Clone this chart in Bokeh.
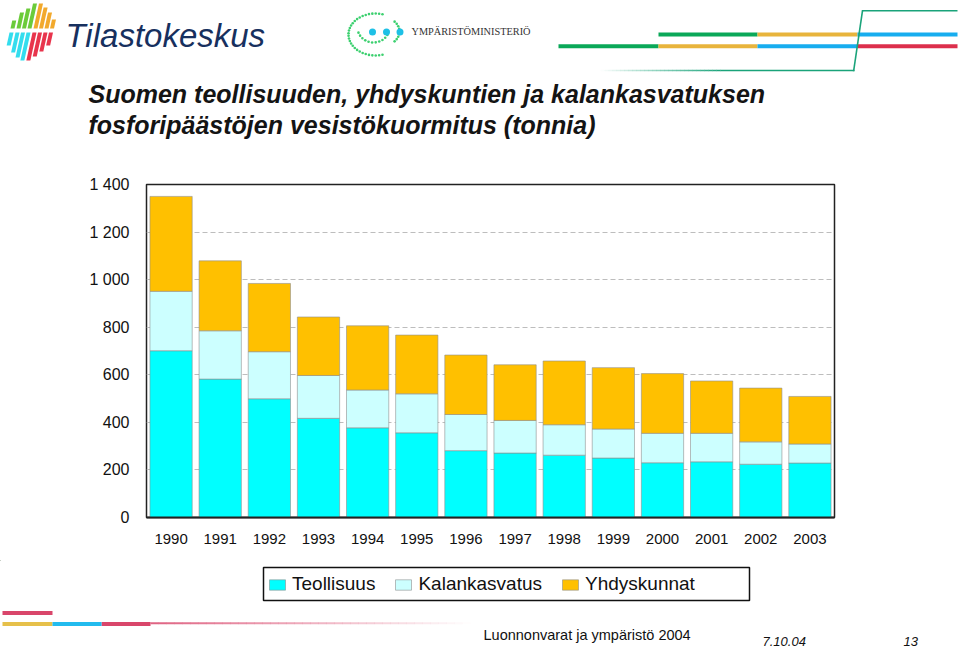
import math
from bokeh.plotting import figure
from bokeh.layouts import column
from bokeh.models import (ColumnDataSource, FactorRange, Range1d, FixedTicker, Legend,
                          LegendItem)
from bokeh.core.properties import value
from bokeh.embed import file_html
from bokeh.resources import INLINE

# ---------------- data ----------------
years = ["1990", "1991", "1992", "1993", "1994", "1995", "1996",
         "1997", "1998", "1999", "2000", "2001", "2002", "2003"]
teollisuus = [701, 582, 499, 417, 377, 356, 281, 271, 262, 250, 230, 234, 224, 229]
kalankasvatus = [250, 203, 198, 180, 159, 164, 152, 137, 128, 122, 124, 120, 94, 80]
yhdyskunnat = [399, 294, 287, 246, 270, 247, 250, 234, 268, 258, 251, 220, 226, 200]
series_names = ["Teollisuus", "Kalankasvatus", "Yhdyskunnat"]
series_colors = ["#00FFFF", "#CCFFFF", "#FFC000"]
y_ticks = [0, 200, 400, 600, 800, 1000, 1200, 1400]
y_tick_labels = ["0", "200", "400", "600", "800", "1 000", "1 200", "1 400"]

title_lines = ["Suomen teollisuuden, yhdyskuntien ja kalankasvatuksen",
               "fosforipäästöjen vesistökuormitus (tonnia)"]
source_text = "Luonnonvarat ja ympäristö 2004"
date_text = "7.10.04"
page_text = "13"

SANS = "Liberation Sans"
W = 960
HEAD_H, MAIN_H, FOOT_H = 170, 390, 88
BASE_SHIFT = 0.37  # empirical: rendered baseline sits this fraction of font size lower


def deco_figure(y0, h):
    f = figure(width=W, height=h, x_range=Range1d(0, W), y_range=Range1d(y0 + h, y0),
               x_axis_type=None, y_axis_type=None, output_backend="svg",
               toolbar_location=None, min_border=0, min_border_left=0, min_border_right=0,
               min_border_top=0, min_border_bottom=0, frame_align=False)
    f.title.visible = False
    f.outline_line_color = None
    f.background_fill_color = "white"
    f.border_fill_color = "white"
    return f


def quads(f, boxes, color, alpha=1.0):
    f.quad(left=[b[0] for b in boxes], right=[b[2] for b in boxes],
           top=[b[1] for b in boxes], bottom=[b[3] for b in boxes],
           fill_color=color, fill_alpha=alpha, line_color=None)


def fade(f, x0, x1, y0, y1, color, a0, a1, steps=30):
    w = (x1 - x0) / steps
    f.quad(left=[x0 + k * w for k in range(steps)],
           right=[x0 + (k + 1) * w + 0.3 for k in range(steps)],
           top=[y0] * steps, bottom=[y1] * steps, fill_color=color,
           fill_alpha=[a0 + (a1 - a0) * (k + 0.5) / steps for k in range(steps)],
           line_color=None)


def txt(f, x, y, s, size, style="normal", color="#111111", font=SANS, align="left"):
    f.text(x=[x], y=[y - BASE_SHIFT * size], text=[s], text_font=value(font),
           text_font_size=value(f"{size}px"), text_font_style=style, text_color=color,
           text_align=align, text_baseline="alphabetic")


# ================= header =================
hd = deco_figure(0, HEAD_H)

# Tilastokeskus logo bars
slant = 0.22
top_bars = [(10, 20, "#6BCB3A"), (16, 12, "#6BCB3A"), (21.5, 8, "#6BCB3A"), (27, 3, "#6BCB3A"),
            (33, 3, "#F2A92C"), (38.5, 7, "#F2A92C"), (44, 12, "#F2A92C"), (49.5, 19, "#F2A92C")]
xs, ys, cs = [], [], []
for bx, ty, c in top_bars:
    by = 28
    xs.append([bx, bx + 4, bx + 4 + slant * (by - ty), bx + slant * (by - ty)])
    ys.append([by, by, ty, ty]); cs.append(c)
bot_bars = [(9, 45, "#33DDEE"), (15, 52, "#33DDEE"), (20.5, 57, "#33DDEE"), (26, 60, "#33DDEE"),
            (32, 60, "#E8344C"), (37.5, 56, "#E8344C"), (43, 51, "#E8344C"), (48.5, 45, "#E8344C")]
for bx, bty, c in bot_bars:
    ty = 32
    xs.append([bx, bx + 4, bx + 4 - slant * (bty - ty), bx - slant * (bty - ty)])
    ys.append([ty, ty, bty, bty]); cs.append(c)
hd.patches(xs=xs, ys=ys, fill_color=cs, line_color=None)
txt(hd, 65, 47, "Tilastokeskus", 33, style="italic", color="#17305E")

# Ympäristöministeriö logo
g = "#3DD070"
dx, dy = [], []
for k in range(30):
    a = math.radians(75 + k * (210 / 29))
    dx.append(375 + 27 * math.cos(a)); dy.append(34 - 21 * math.sin(a))
for k in range(9):
    a = math.radians(-38 + k * (76 / 8))
    dx.append(376 + 23 * math.cos(a)); dy.append(31 - 16 * math.sin(a))
for k in range(11):
    a = math.radians(200 + k * (130 / 10))
    dx.append(373 + 16 * math.cos(a)); dy.append(27 - 15 * math.sin(a))
hd.scatter(x=dx, y=dy, size=2.6, marker="circle", fill_color=g, line_color=None)
hd.scatter(x=[372, 386, 399.5], y=[31.5, 31.5, 31.5], size=7, marker="circle",
           fill_color="#1EC0E6", line_color=None)
txt(hd, 411, 34.5, "YMPÄRISTÖMINISTERIÖ", 10.3, font="Liberation Serif", color="#333333")

# header stripes
GREEN, YEL, BLUE, RED = "#0AA858", "#E8B43C", "#17ADEF", "#DC2F4C"
quads(hd, [(658, 32, 757, 36), (558, 43.7, 658, 47.7)], GREEN)
quads(hd, [(757, 32, 857, 36), (658, 43.7, 757, 47.7)], YEL)
quads(hd, [(857, 32, 957, 36), (757, 43.7, 857, 47.7)], BLUE)
quads(hd, [(857, 43.7, 957, 47.7)], RED)
TEAL = "#1AA37A"
quads(hd, [(862, 9.6, 957, 11.1), (720, 69.3, 854, 70.8)], TEAL)
hd.patch(x=[861.3, 862.9, 853.9, 852.3], y=[9.6, 9.6, 70.8, 70.8], fill_color=TEAL,
         line_color=None)
fade(hd, 600, 720, 69.3, 70.8, TEAL, 0.0, 1.0)

# title
txt(hd, 88, 103, title_lines[0], 25, style="bold italic", color="#141414")
txt(hd, 88, 134, title_lines[1], 25, style="bold italic", color="#141414")

# ================= main chart =================
source = ColumnDataSource(dict(years=years, Teollisuus=teollisuus,
                               Kalankasvatus=kalankasvatus, Yhdyskunnat=yhdyskunnat))
p = figure(width=W, height=MAIN_H, x_range=FactorRange(factors=years, range_padding=0),
           y_range=Range1d(0, 1400), output_backend="svg", toolbar_location=None,
           min_border_left=146, min_border_right=126, min_border_top=14,
           min_border_bottom=43, frame_align=False)
p.title.visible = False
p.background_fill_color = "white"
p.border_fill_color = "white"
p.outline_line_color = "#222222"
p.outline_line_width = 1.5

renderers = p.vbar_stack(series_names, x="years", width=0.86, source=source,
                         color=series_colors, line_color="#8f8f8f", line_width=0.6)

p.xaxis.major_tick_line_color = None
p.xaxis.minor_tick_line_color = None
p.xaxis.axis_line_color = "#222222"
p.xaxis.axis_line_width = 2
p.xaxis.major_label_text_font = SANS
p.xaxis.major_label_text_font_size = "15px"
p.xaxis.major_label_text_color = "#111111"
p.xaxis.major_label_standoff = 10

p.yaxis.ticker = FixedTicker(ticks=y_ticks)
p.yaxis.major_label_overrides = dict(zip(y_ticks, y_tick_labels))
p.yaxis.major_tick_line_color = None
p.yaxis.minor_tick_line_color = None
p.yaxis.axis_line_color = None
p.yaxis.major_label_text_font = SANS
p.yaxis.major_label_text_font_size = "16px"
p.yaxis.major_label_text_color = "#111111"
p.yaxis.major_label_standoff = 11

p.xgrid.grid_line_color = None
p.ygrid.grid_line_color = "#BDBDBD"
p.ygrid.grid_line_dash = "5 3"
p.ygrid.grid_line_width = 1

# ================= footer (legend + source) =================
ft = deco_figure(HEAD_H + MAIN_H, FOOT_H)
ft.quad(left=[263], right=[749], top=[567], bottom=[600], fill_color="white",
        line_color="#111111", line_width=1.5)
# off-screen swatch renderers carrying the series styles for the legend
swatches = [ft.vbar(x=[-1000], top=[-1000], bottom=[-1000], width=0, fill_color=c,
                    line_color="#8f8f8f", line_width=0.6) for c in series_colors]
legend = Legend(items=[LegendItem(label=n, renderers=[r]) for n, r in zip(series_names, swatches)],
                location=(267, 53), orientation="horizontal",
                border_line_color=None, background_fill_alpha=0.0,
                padding=6, spacing=18, label_standoff=5, glyph_width=20, glyph_height=13,
                label_text_font=SANS, label_text_font_size="19px",
                label_text_color="#111111", margin=0)
ft.add_layout(legend)

quads(ft, [(2, 610.5, 52, 614.5), (101, 621.5, 150, 625.5)], "#D9466B")
quads(ft, [(2, 621.5, 52, 625.5)], "#E6C04A")
quads(ft, [(52, 621.5, 101, 625.5)], "#22BBEE")
fade(ft, 150, 470, 621.8, 623.8, "#D9466B", 0.85, 0.0, steps=40)
txt(ft, 483, 640, source_text, 14.5)
txt(ft, 762, 646, date_text, 13, style="italic")
txt(ft, 903, 646, page_text, 13, style="italic")

layout = column(hd, p, ft, spacing=0)
open("out.html", "w").write(file_html(layout, INLINE))
